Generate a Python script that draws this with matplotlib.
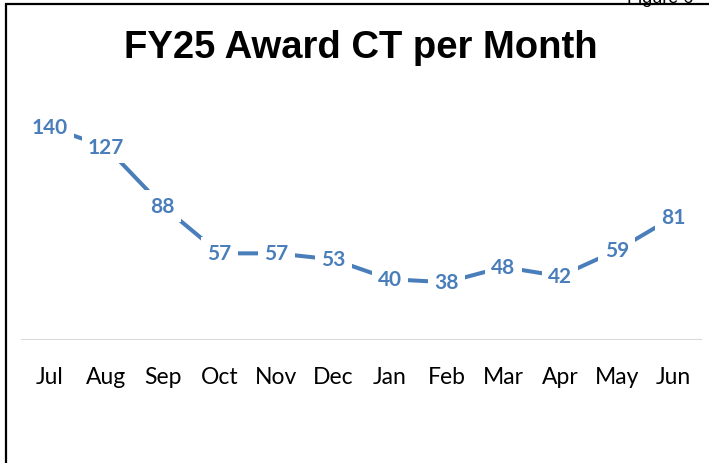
import matplotlib.pyplot as plt
from matplotlib.patches import Rectangle

months = ["Jul", "Aug", "Sep", "Oct", "Nov", "Dec", "Jan", "Feb", "Mar", "Apr", "May", "Jun"]
award_ct = [140, 127, 88, 57, 57, 53, 40, 38, 48, 42, 59, 81]

blue = "#4a7ebb"
W, H = 709, 464

fig = plt.figure(figsize=(W / 100, H / 100), dpi=100)

# outer border of the chart object (runs off right and bottom edge)
fig.patches.append(Rectangle((6 / W, -0.1), 1.1, 1 - 5 / H + 0.1, transform=fig.transFigure,
                             fill=False, edgecolor="black", linewidth=1.6))
fig.text(627 / W, 1 - 3 / H, "Figure 6", fontsize=13, family="Liberation Sans",
         ha="left", va="baseline")

fig.text(361 / W, 1 - 48 / H, "FY25 Award CT per Month", fontsize=27.5, fontweight="bold",
         family="Liberation Sans", ha="center", va="center")

ax = fig.add_axes([21 / W, 1 - 341 / H, (702 - 21) / W, (341 - 113) / H])
x = range(len(months))
ax.plot(x, award_ct, color=blue, linewidth=2.9, solid_capstyle="butt")
for i, v in zip(x, award_ct):
    ax.text(i, v, str(v), color=blue, fontsize=15, fontweight="bold", family="Lato",
            ha="center", va="center",
            bbox=dict(facecolor="white", edgecolor="none", pad=4.5))

ax.set_xlim(-0.5, len(months) - 0.5)
ax.set_ylim(0, 150)
ax.axhline(0, color="#d9d9d9", linewidth=1.5)
ax.set_xticks(list(x))
ax.set_xticklabels(months, fontsize=16.5, family="Lato")
ax.tick_params(axis="x", length=0, pad=19)
ax.set_yticks([])
for s in ax.spines.values():
    s.set_visible(False)
ax.patch.set_alpha(0)

fig.savefig("out.png", dpi=100)
